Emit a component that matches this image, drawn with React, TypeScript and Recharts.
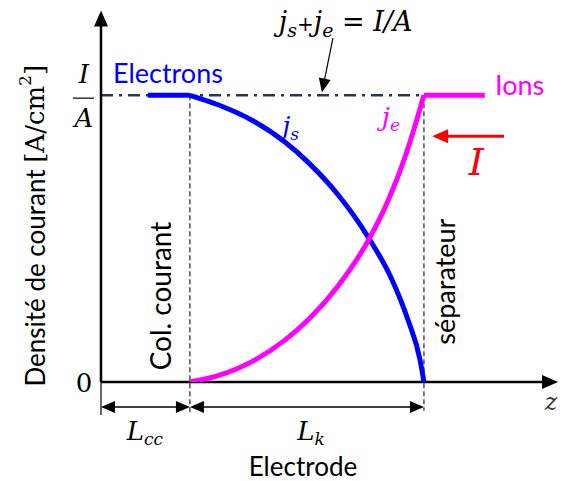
import React from 'react'
import { Line, LineChart, ReferenceDot, ReferenceLine, XAxis, YAxis } from 'recharts'

// z in units of L_k (0 = current collector start), j in units of I/A
const zElectrons = [0.2, 0.38]
const jElectrons = [1, 1]
const zJs = [0.38, 0.5, 0.645, 0.786, 0.893, 1.013, 1.141, 1.244, 1.312, 1.363, 1.38]
const jsValues = [1, 0.967, 0.913, 0.837, 0.76, 0.653, 0.506, 0.356, 0.216, 0.078, 0]
const zJe = [0.38, 0.5, 0.645, 0.786, 0.893, 1.013, 1.141, 1.226, 1.299, 1.35, 1.38]
const jeValues = [0, 0.022, 0.071, 0.146, 0.223, 0.335, 0.492, 0.631, 0.784, 0.916, 1]
const zIons = [1.38, 1.64]
const jIons = [1, 1]

const zCollector = 0.38
const zSeparator = 1.38
const zMax = 1.94
const jMax = 1.28

const zip = (zs: number[], js: number[]) => zs.map((z, i) => ({ z, j: js[i] }))

const BLUE = '#0000ff'
const PINK = '#ff00ff'
const RED = '#ff0000'
const NAVY = '#1f3864'
const SANS = 'Lato, "Open Sans", sans-serif'
const SERIF = '"DejaVu Serif", "Liberation Serif", serif'

function arrowShape(color: string, width: number, len: number, half: number, both = false) {
  return (p: any) => {
    const { x1, y1, x2, y2 } = p
    const dx = x2 - x1
    const dy = y2 - y1
    const d = Math.hypot(dx, dy) || 1
    const ux = dx / d
    const uy = dy / d
    const head = (tx: number, ty: number, sx: number, sy: number) => {
      const bx = tx - sx * len
      const by = ty - sy * len
      return `${tx},${ty} ${bx - sy * half},${by + sx * half} ${bx + sy * half},${by - sx * half}`
    }
    return (
      <g>
        <line
          x1={both ? x1 + ux * len * 0.7 : x1}
          y1={both ? y1 + uy * len * 0.7 : y1}
          x2={x2 - ux * len * 0.7}
          y2={y2 - uy * len * 0.7}
          stroke={color}
          strokeWidth={width}
        />
        <polygon points={head(x2, y2, ux, uy)} fill={color} />
        {both ? <polygon points={head(x1, y1, -ux, -uy)} fill={color} /> : null}
      </g>
    )
  }
}

function textShape(content: React.ReactNode, style: any, rotate = false) {
  return (p: any) => (
    <text
      x={p.cx}
      y={p.cy}
      transform={rotate ? `rotate(-90 ${p.cx} ${p.cy})` : undefined}
      {...style}
    >
      {content}
    </text>
  )
}

const sansText = (size: number, fill = '#000', anchor = 'middle') => ({
  fontFamily: SANS,
  fontSize: size,
  fill,
  textAnchor: anchor,
})

const mathText = (size: number, fill = '#000', anchor = 'middle') => ({
  fontFamily: SERIF,
  fontStyle: 'italic',
  fontSize: size,
  fill,
  textAnchor: anchor,
})

export default function App() {
  const note = (x: number, y: number, shape: any, key: string) => (
    <ReferenceDot key={key} x={x} y={y} r={0} ifOverflow='visible' shape={shape} />
  )

  return (
    <div style={{ position: 'absolute', left: 0, top: 0, background: '#fff' }}>
      <LineChart
        width={562}
        height={481}
        margin={{ top: 15, right: 7, bottom: 99, left: 101 }}
      >
        <XAxis dataKey='z' type='number' domain={[0, zMax]} hide allowDataOverflow />
        <YAxis dataKey='j' type='number' domain={[0, jMax]} hide allowDataOverflow />

        {/* guides */}
        <ReferenceLine
          segment={[{ x: 0, y: 1 }, { x: zSeparator, y: 1 }]}
          stroke={NAVY}
          strokeWidth={2.5}
          strokeDasharray='12 6 3 6'
          ifOverflow='visible'
        />
        <ReferenceLine
          segment={[{ x: zCollector, y: 1 }, { x: zCollector, y: -0.115 }]}
          stroke='#222'
          strokeWidth={1.2}
          strokeDasharray='5 3'
          ifOverflow='visible'
        />
        <ReferenceLine
          segment={[{ x: zSeparator, y: 1 }, { x: zSeparator, y: -0.1 }]}
          stroke='#222'
          strokeWidth={1.2}
          strokeDasharray='5 3'
          ifOverflow='visible'
        />
        <ReferenceLine
          segment={[{ x: 0, y: 0 }, { x: 0, y: -0.115 }]}
          stroke='#000'
          strokeWidth={1.2}
          ifOverflow='visible'
        />

        {/* axes */}
        <ReferenceLine
          segment={[{ x: 0, y: 0 }, { x: 0, y: 1.296 }]}
          ifOverflow='visible'
          shape={arrowShape('#000', 2.5, 16, 7)}
        />
        <ReferenceLine
          segment={[{ x: 0, y: 0 }, { x: 1.953, y: 0 }]}
          ifOverflow='visible'
          shape={arrowShape('#000', 2.5, 16, 7)}
        />

        {/* dimension arrows */}
        <ReferenceLine
          segment={[{ x: 0, y: -0.087 }, { x: zCollector, y: -0.087 }]}
          ifOverflow='visible'
          shape={arrowShape('#000', 1.5, 14, 6, true)}
        />
        <ReferenceLine
          segment={[{ x: zCollector, y: -0.087 }, { x: zSeparator, y: -0.087 }]}
          ifOverflow='visible'
          shape={arrowShape('#000', 1.5, 14, 6, true)}
        />

        {/* fraction bar I/A */}
        <ReferenceLine
          segment={[{ x: -0.12, y: 0.99 }, { x: -0.03, y: 0.99 }]}
          stroke='#000'
          strokeWidth={1.2}
          ifOverflow='visible'
        />

        {/* annotation arrows */}
        <ReferenceLine
          segment={[{ x: 0.991, y: 1.199 }, { x: 0.944, y: 1.01 }]}
          ifOverflow='visible'
          shape={arrowShape('#000', 1.2, 14, 6)}
        />
        <ReferenceLine
          segment={[{ x: 1.722, y: 0.857 }, { x: 1.415, y: 0.857 }]}
          ifOverflow='visible'
          shape={arrowShape(RED, 3, 16, 7)}
        />

        {/* current densities */}
        <Line data={zip(zElectrons, jElectrons)} dataKey='j' type='linear' stroke={BLUE} strokeWidth={5} dot={false} isAnimationActive={false} />
        <Line data={zip(zJs, jsValues)} dataKey='j' type='monotoneX' stroke={BLUE} strokeWidth={5} dot={false} isAnimationActive={false} />
        <Line data={zip(zJe, jeValues)} dataKey='j' type='monotoneX' stroke={PINK} strokeWidth={5} dot={false} isAnimationActive={false} />
        <Line data={zip(zIons, jIons)} dataKey='j' type='linear' stroke={PINK} strokeWidth={5} dot={false} isAnimationActive={false} />

        {/* text */}
        {note(0.051, 1.042, textShape('Electrons', sansText(27, BLUE, 'start')), 'electrons')}
        {note(1.684, 1.0, textShape('Ions', sansText(27, PINK, 'start')), 'ions')}
        {note(0.774, 0.861, textShape(<>j<tspan fontSize={17} dy={5}>s</tspan></>, mathText(26, BLUE, 'start')), 'js')}
        {note(1.2, 0.892, textShape(<>j<tspan fontSize={17} dy={5}>e</tspan></>, mathText(26, PINK, 'start')), 'je')}
        {note(1.603, 0.721, textShape('I', mathText(38, RED)), 'I')}
        {note(
          0.76,
          1.223,
          textShape(
            <>
              j<tspan fontSize={19} dy={6}>s</tspan>
              <tspan dy={-6} fontStyle='normal' fontSize={20}>+</tspan>
              j<tspan fontSize={19} dy={6}>e</tspan>
              <tspan dy={-6} fontStyle='normal'> = </tspan>I/A
            </>,
            mathText(27, '#000', 'start')
          ),
          'formula'
        )}
        {note(-0.073, 1.042, textShape('I', mathText(26)), 'fracI')}
        {note(-0.073, 0.889, textShape('A', mathText(26)), 'fracA')}
        {note(-0.073, -0.035, textShape('0', { ...mathText(26), fontStyle: 'normal' }), 'zero')}
        {note(0.188, -0.202, textShape(<>L<tspan fontSize={17} dy={5}>cc</tspan></>, mathText(26)), 'lcc')}
        {note(0.897, -0.202, textShape(<>L<tspan fontSize={17} dy={5}>k</tspan></>, mathText(26)), 'lk')}
        {note(0.863, -0.328, textShape('Electrode', sansText(26)), 'electrode')}
        {note(1.923, -0.098, textShape('z', mathText(24, '#333')), 'z')}
        {note(
          -0.282,
          0.545,
          textShape(
            <>
              Densité de courant{' '}
              <tspan fontFamily={SERIF}>[A/cm</tspan>
              <tspan fontFamily={SERIF} fontSize={17} dy={-10}>2</tspan>
              <tspan fontFamily={SERIF} dy={10}>]</tspan>
            </>,
            { ...sansText(26), dominantBaseline: 'central' },
            true
          ),
          'ytitle'
        )}
        {note(0.252, 0.3, textShape('Col. courant', { ...sansText(28), dominantBaseline: 'central' }, true), 'col')}
        {note(1.466, 0.35, textShape('séparateur', { ...sansText(27), dominantBaseline: 'central' }, true), 'sep')}
      </LineChart>
    </div>
  )
}
